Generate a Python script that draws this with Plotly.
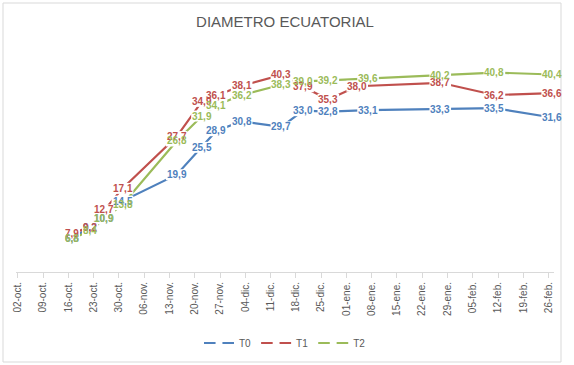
import plotly.graph_objects as go

title = "DIAMETRO ECUATORIAL"

dates_t0 = ["2018-10-17", "2018-10-22", "2018-10-26", "2018-10-31", "2018-11-15", "2018-11-22",
            "2018-11-26", "2018-12-03", "2018-12-14", "2018-12-20", "2018-12-27", "2019-01-07",
            "2019-01-27", "2019-02-11", "2019-02-27"]
t0 = [6.8, 9.2, 10.9, 14.5, 19.9, 25.5, 28.9, 30.8, 29.7, 33.0, 32.8, 33.1, 33.3, 33.5, 31.6]

dates_t1 = ["2018-10-17", "2018-10-22", "2018-10-26", "2018-10-31", "2018-11-15", "2018-11-22",
            "2018-11-26", "2018-12-03", "2018-12-14", "2018-12-20", "2018-12-27", "2019-01-04",
            "2019-01-27", "2019-02-11", "2019-02-27"]
t1 = [7.9, 9.2, 12.7, 17.1, 27.7, 34.9, 36.1, 38.1, 40.3, 37.9, 35.3, 38.0, 38.7, 36.2, 36.6]

dates_t2 = ["2018-10-17", "2018-10-22", "2018-10-26", "2018-10-31", "2018-11-15", "2018-11-22",
            "2018-11-26", "2018-12-03", "2018-12-14", "2018-12-20", "2018-12-27", "2019-01-07",
            "2019-01-27", "2019-02-11", "2019-02-27"]
t2 = [6.8, 8.4, 10.9, 13.8, 26.8, 31.9, 34.1, 36.2, 38.3, 39.0, 39.2, 39.6, 40.2, 40.8, 40.4]

tick_dates = ["2018-10-02", "2018-10-09", "2018-10-16", "2018-10-23", "2018-10-30", "2018-11-06",
              "2018-11-13", "2018-11-20", "2018-11-27", "2018-12-04", "2018-12-11", "2018-12-18",
              "2018-12-25", "2019-01-01", "2019-01-08", "2019-01-15", "2019-01-22", "2019-01-29",
              "2019-02-05", "2019-02-12", "2019-02-19", "2019-02-26"]
tick_labels = ["02-oct.", "09-oct.", "16-oct.", "23-oct.", "30-oct.", "06-nov.", "13-nov.", "20-nov.",
               "27-nov.", "04-dic.", "11-dic.", "18-dic.", "25-dic.", "01-ene.", "08-ene.", "15-ene.",
               "22-ene.", "29-ene.", "05-feb.", "12-feb.", "19-feb.", "26-feb."]

series = [("T0", dates_t0, t0, "#4F81BD"), ("T1", dates_t1, t1, "#C0504D"), ("T2", dates_t2, t2, "#9BBB59")]

fig = go.Figure()
shapes = [dict(type="rect", xref="paper", yref="paper",
               x0=(3 - 16) / 538, x1=(561 - 16) / 538,
               y0=(272 - 362) / 220, y1=(272 - 3) / 220,
               line=dict(color="#D9D9D9", width=1), fillcolor="rgba(0,0,0,0)", layer="below")]
labels = []
for name, xs, ys, col in series:
    fig.add_trace(go.Scatter(
        x=xs, y=ys, name=name, mode="lines+markers",
        line=dict(color=col, width=2.2),
        marker=dict(color="white", size=7, line=dict(width=0)),
        hoverinfo="skip"))
    for x, y in zip(xs, ys):
        txt = f"{y:.1f}".replace(".", ",")
        half_w = (5.6 * (len(txt) - 1) + 2.8) / 2 + 1
        shapes.append(dict(
            type="rect", xref="x", yref="y", xsizemode="pixel", ysizemode="pixel",
            xanchor=x, yanchor=y, x0=-half_w, x1=half_w, y0=-5.5, y1=5.5,
            fillcolor="white", line=dict(width=0), layer="above"))
        labels.append(dict(
            x=x, y=y, xref="x", yref="y", text=txt,
            showarrow=False, borderpad=0,
            font=dict(family="Liberation Sans", size=10, color=col, weight="bold"),
            xanchor="center", yanchor="middle"))

fig.update_layout(
    width=574, height=365,
    margin=dict(l=16, r=20, t=52, b=93, autoexpand=False),
    paper_bgcolor="white", plot_bgcolor="white",
    title=dict(text=title, x=0.5, xref="paper", xanchor="center", y=0.94, yanchor="middle",
               font=dict(family="Liberation Sans", size=15, color="#595959")),
    showlegend=True,
    legend=dict(orientation="h", x=0.5, xanchor="center", xref="paper",
                y=(365 - 343) / 365, yanchor="middle", yref="container",
                font=dict(family="Liberation Sans", size=10, color="#595959"),
                itemwidth=30, tracegroupgap=0),
    annotations=labels,
    shapes=shapes,
)

fig.update_xaxes(
    type="date", range=["2018-10-01 12:00", "2019-02-27 12:00"],
    tickmode="array", tickvals=tick_dates, ticktext=tick_labels, tickangle=-90,
    tickfont=dict(family="Liberation Sans", size=10, color="#595959"),
    showline=True, linecolor="#D9D9D9", linewidth=1,
    ticks="outside", ticklen=5, tickcolor="#D9D9D9",
    showgrid=False, zeroline=False, fixedrange=True, automargin=False)

fig.update_yaxes(range=[0, 45], visible=False, showgrid=False, zeroline=False, fixedrange=True)

fig.write_html("out.html", config={"displayModeBar": False},
               post_script="document.body.style.margin='0';document.body.style.overflow='hidden';")
